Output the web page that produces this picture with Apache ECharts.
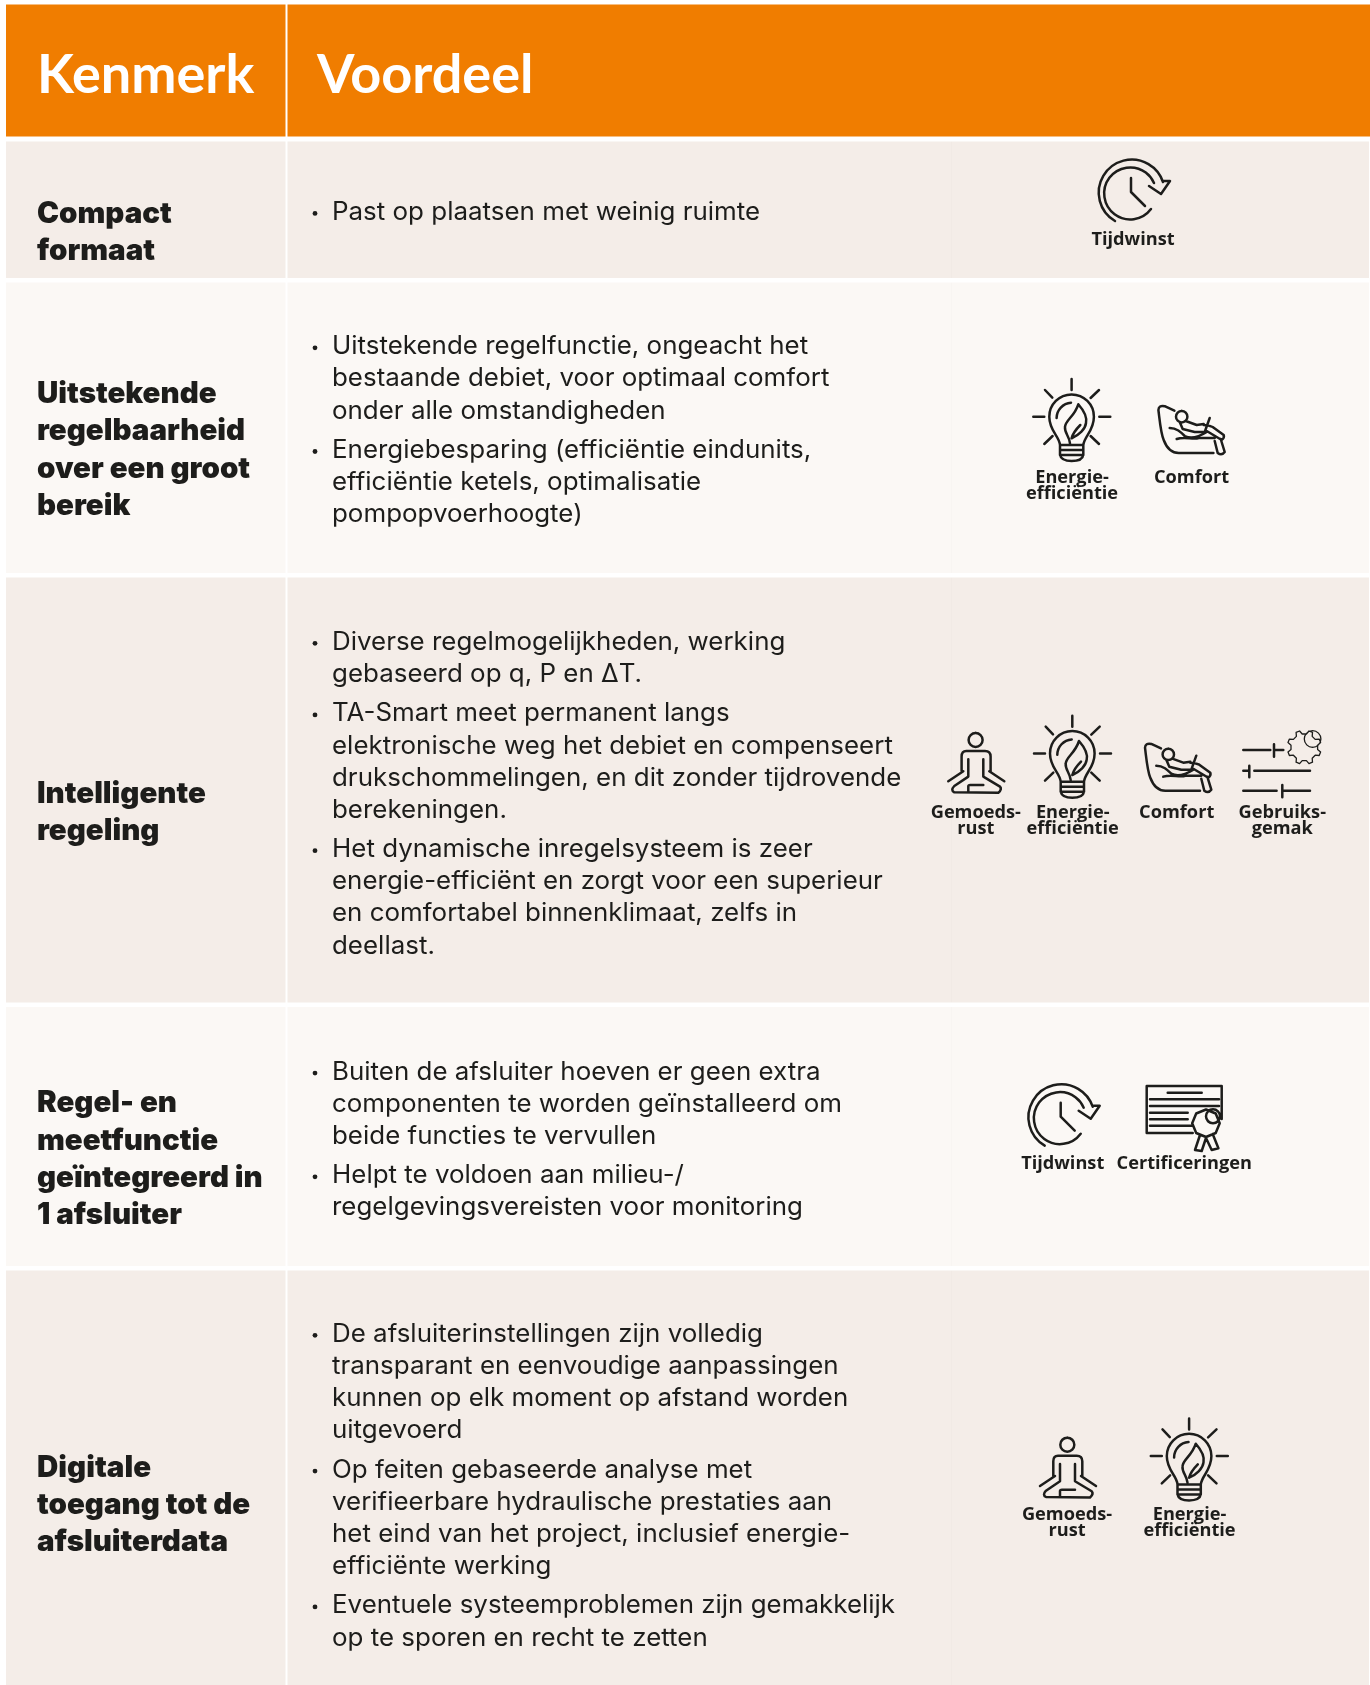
<!DOCTYPE html>
<html>
<head>
<meta charset="utf-8">
<title>Kenmerk en voordeel</title>
<script src="https://cdn.jsdelivr.net/npm/echarts@6/dist/echarts.min.js"></script>
<style>
  html, body { margin: 0; padding: 0; background: #fff; }
  #chart { width: 1370px; height: 1685px; }
</style>
</head>
<body>
<div id="chart"></div>
<script>
// table content
var headers = ['Kenmerk', 'Voordeel'];

var kenmerken = [
  ['Compact', 'formaat'],
  ['Uitstekende', 'regelbaarheid', 'over een groot', 'bereik'],
  ['Intelligente', 'regeling'],
  ['Regel- en', 'meetfunctie', 'geïntegreerd in', '1 afsluiter'],
  ['Digitale', 'toegang tot de', 'afsluiterdata']
];

var voordelen = [
  [['Past op plaatsen met weinig ruimte']],
  [['Uitstekende regelfunctie, ongeacht het', 'bestaande debiet, voor optimaal comfort', 'onder alle omstandigheden'],
   ['Energiebesparing (efficiëntie eindunits,', 'efficiëntie ketels, optimalisatie', 'pompopvoerhoogte)']],
  [['Diverse regelmogelijkheden, werking', 'gebaseerd op q, P en ΔT.'],
   ['TA-Smart meet permanent langs', 'elektronische weg het debiet en compenseert', 'drukschommelingen, en dit zonder tijdrovende', 'berekeningen.'],
   ['Het dynamische inregelsysteem is zeer', 'energie-efficiënt en zorgt voor een superieur', 'en comfortabel binnenklimaat, zelfs in', 'deellast.']],
  [['Buiten de afsluiter hoeven er geen extra', 'componenten te worden geïnstalleerd om', 'beide functies te vervullen'],
   ['Helpt te voldoen aan milieu-/', 'regelgevingsvereisten voor monitoring']],
  [['De afsluiterinstellingen zijn volledig', 'transparant en eenvoudige aanpassingen', 'kunnen op elk moment op afstand worden', 'uitgevoerd'],
   ['Op feiten gebaseerde analyse met', 'verifieerbare hydraulische prestaties aan', 'het eind van het project, inclusief energie-', 'efficiënte werking'],
   ['Eventuele systeemproblemen zijn gemakkelijk', 'op te sporen en recht te zetten']]
];

var iconsPerRow = [
  ['clock'],
  ['bulb', 'comfort'],
  ['person', 'bulb', 'comfort', 'sliders'],
  ['clock', 'cert'],
  ['person', 'bulb']
];

var iconLabels = {
  clock: ['Tijdwinst'],
  bulb: ['Energie-', 'efficiëntie'],
  comfort: ['Comfort'],
  person: ['Gemoeds-', 'rust'],
  sliders: ['Gebruiks-', 'gemak'],
  cert: ['Certificeringen']
};

// layout, in page pixels
var rowEdges = [[4.4, 136.5], [141.5, 278], [282.5, 573], [577.5, 1002.5], [1007, 1266], [1270.5, 1685]];
var colEdges = [6, 285.5, 287.5, 1369];
var titleFirstY = [213.8, 394.3, 794, 1103.4, 1467.7];
var bodyFirstY = [212.4, 346.8, 642.3, 1072.1, 1334.3];
var iconOrigins = [
  [[1097, 158]],
  [[1033.3, 379], [1156.7, 405]],
  [[948.3, 732.3], [1034, 715.7], [1143.3, 742.7], [1243.3, 730]],
  [[1026.7, 1082.7], [1146.7, 1086]],
  [[1040, 1437], [1150.8, 1418.4]]
];
var labelCenters = [
  [1133],
  [1072, 1191.6],
  [975.8, 1072.7, 1176.7, 1282.3],
  [1062.7, 1184.3],
  [1067, 1189.5]
];
var labelFirstY = [239.5, 478, 812.7, 1163.7, 1515];

var INK = '#1d1d1b';

function gearPath(cx, cy, teeth, rOut, rIn) {
  var d = '';
  var step = Math.PI * 2 / teeth;
  for (var i = 0; i < teeth; i++) {
    var a = i * step + step / 2;
    [[rIn, -0.3], [rOut, -0.14], [rOut, 0.14], [rIn, 0.3]].forEach(function (p, k) {
      var t = a + p[1] * step;
      d += (i === 0 && k === 0 ? 'M' : 'L') + (cx + p[0] * Math.cos(t)).toFixed(1) + ' ' + (cy + p[0] * Math.sin(t)).toFixed(1) + ' ';
    });
  }
  return d + 'Z ';
}

// icons are drawn in a local 80x85 box, 1 unit = 1 page pixel
var iconPaths = {
  clock: 'M18 63 A33 33 0 1 1 66 24 M54 51 A26 26 0 1 1 57 25 M34 20 L34 34 L48 48 M52 28 L64 36 L73 23 L66 23',
  bulb: 'M38.3 0 L38.3 11 M0 37.7 L11 37.7 M66 37.7 L77 37.7 M11.7 11 L19 18.7 M65.7 11 L57.3 19 M11 65 L19.3 57 M65.7 65 L57.3 57 ' +
    'M26.7 66 C26 57 16 52 16 37.7 A22.3 22.3 0 1 1 60.6 37.7 C60.6 52 51 57 50 66 ' +
    'M26.7 66 L50 66 M26.7 71 L50 71 M26.7 76 L50 76 M26.7 66 L26.7 76 Q28 82 38.3 82 Q49 82 50 76 L50 66 ' +
    'M23.3 39 A15.5 15.5 0 0 1 37.7 23.7 ' +
    'M36.7 64.3 C36 57 31 54 31.7 48 C32 41 41 38 45 25.3 C50 31 54 38 52.7 44 C52 50 46 56 38.3 59.3 M38.3 59.3 C40 53 43 50 47 46',
  comfort: 'M17.7 5.7 L8 1.2 Q2 0 1.7 5 C3 15 4 28 7 35 C10 43 14 48 22 48 L56.7 48 ' +
    'M25 6 A5.7 5.7 0 1 0 25.01 6 ' +
    'M29 16 L40 20 L47 19 M53 13 L48 27 L38 27 M23 17 L26 24 L38 27 ' +
    'M47 20 C52 20 54 21 56 22 L67 30 Q68 33 65 35 L50 26 ' +
    'M58 36 L61 48 Q65 51 68 47 L64 34 ' +
    'M13 23 C20 23 24 27 28 31 C34 34 42 32 50 27 M20 34 C28 31 36 35 42 33 L58 33',
  person: 'M27.3 0.7 A7 7 0 1 0 27.31 0.7 ' +
    'M13.3 39 L13.3 24.3 Q13.3 18.7 18 18.7 L36.7 18.7 Q42.3 18.7 42.3 24.3 L42.3 39 ' +
    'M0 49 L15 39 M56 49 L41 39 ' +
    'M20 27 L20 44.3 L6 53.7 Q2 58 6 60 L50 60.5 Q54 57 51.7 54.3 L35 44.3 L35 27 ' +
    'M20 60 L20 54 Q20 52.7 22 52.7 L35 52.7',
  sliders: 'M0 20 L27 20 M30.7 14.3 L30.7 26.7 M30.7 20 L40 20 ' +
    'M6 35.7 L6 47.3 M0 40.7 L6 40.7 M11 40.7 L66.7 40.7 ' +
    'M0 60.7 L33.3 60.7 M39 55 L39 67.3 M39 60.7 L66.7 60.7',
  cert: 'M75 33 L75 0 L0 0 L0 47 L46 47 ' +
    'M21 6.7 L55 6.7 M3.3 13.3 L72.3 13.3 M3.3 20 L72.3 20 M3.3 26.7 L41 26.7 M3.3 33.3 L41 33.3 M3.3 39.7 L45 39.7 ' +
    'M59.3 23.5 L69 27.5 L73 37.3 L69 47 L59.3 51 L49.5 47 L45.5 37.3 L49.5 27.5 Z ' +
    'M66.3 37.3 A7 7 0 1 0 66.29 37.3 ' +
    'M53.3 49 L48.3 64 L55 65 L59.3 52 L65 64 L71.7 62.3 L66 48'
};

// the gear is drawn with a thinner line than the rest
var iconThinPaths = {
  sliders: gearPath(61, 17.3, 8, 17, 13.5) + 'M69.3 17.3 A8.3 8.3 0 1 0 69.29 17.3'
};

var FONT_BODY = '400 25px Inter, sans-serif';
var BODY_STRETCH = 1.037;
var FONT_TITLE = '900 29.5px Inter, sans-serif';
var FONT_HEAD = '700 54px Lato, sans-serif';
var FONT_LABEL = '700 18.2px "Open Sans", sans-serif';

function txt(x, y, s, font, fill, align, stretch) {
  return {
    type: 'text', x: x, y: y, scaleX: stretch || 1, silent: true,
    style: { text: s, font: font, fill: fill, align: align || 'left', verticalAlign: 'middle' }
  };
}

function band(api, x0, x1, y0, y1, fill) {
  var a = api.coord([x0, y0]);
  var b = api.coord([x1, y1]);
  return { type: 'rect', shape: { x: a[0], y: a[1], width: b[0] - a[0], height: b[1] - a[1] }, style: { fill: fill } };
}

function iconPath(d, width) {
  return {
    type: 'path',
    shape: { pathData: 'M0 0 ' + d + ' M80 85', layout: 'cover', x: 0, y: 0, width: 80, height: 85 },
    style: { fill: 'none', stroke: INK, lineWidth: width, lineCap: 'round', lineJoin: 'round' }
  };
}

function renderRow(params, api) {
  var r = params.dataIndex;
  var top = api.value(0);
  var bottom = api.value(1);
  var kids = [];

  if (r === 0) {
    kids.push(band(api, colEdges[0], colEdges[1], top, bottom, '#f07d00'));
    kids.push(band(api, colEdges[2], 1370, top, bottom, '#f07d00'));
    var hy = api.coord([0, 76])[1];
    kids.push(txt(api.coord([37, 0])[0], hy, headers[0], FONT_HEAD, '#fff'));
    kids.push(txt(api.coord([317, 0])[0], hy, headers[1], FONT_HEAD, '#fff'));
    return { type: 'group', children: kids };
  }

  var i = r - 1;
  var fill = i % 2 === 0 ? '#f4ede8' : '#fbf8f5';
  kids.push(band(api, colEdges[0], colEdges[1], top, bottom, fill));
  kids.push(band(api, colEdges[2], colEdges[3], top, bottom, fill));
  kids.push(band(api, 951, 952, top, bottom, 'rgba(0,0,0,0.012)'));

  // first column
  kenmerken[i].forEach(function (line, k) {
    var p = api.coord([37, titleFirstY[i] + k * 37.3]);
    kids.push(txt(p[0], p[1], line, FONT_TITLE, INK));
  });

  // second column, bullets with their wrapped lines
  var y = bodyFirstY[i];
  voordelen[i].forEach(function (lines) {
    var b = api.coord([315, y]);
    kids.push({ type: 'circle', shape: { cx: b[0], cy: b[1] + 1, r: 2.4 }, style: { fill: INK } });
    lines.forEach(function (line, k) {
      var p = api.coord([332, y + k * 32.1]);
      kids.push(txt(p[0], p[1], line, FONT_BODY, INK, 'left', BODY_STRETCH));
    });
    y += (lines.length - 1) * 32.1 + 39.5;
  });

  // icons with labels
  iconsPerRow[i].forEach(function (name, k) {
    var o = api.coord(iconOrigins[i][k]);
    var parts = [iconPath(iconPaths[name], 2.5)];
    if (iconThinPaths[name]) {
      parts.push(iconPath(iconThinPaths[name], 1.3));
    }
    kids.push({ type: 'group', x: o[0], y: o[1], silent: true, children: parts });
    iconLabels[name].forEach(function (line, m) {
      var p = api.coord([labelCenters[i][k], labelFirstY[i] + m * 16]);
      kids.push(txt(p[0], p[1], line, FONT_LABEL, INK, 'center'));
    });
  });

  return { type: 'group', children: kids };
}

var chart = echarts.init(document.getElementById('chart'));
chart.setOption({
  animation: false,
  backgroundColor: '#ffffff',
  tooltip: { show: false },
  grid: { left: 0, right: 0, top: 0, bottom: 0 },
  xAxis: { type: 'value', min: 0, max: 1370, show: false },
  yAxis: { type: 'value', min: 0, max: 1685, inverse: true, show: false },
  series: [{
    type: 'custom',
    coordinateSystem: 'cartesian2d',
    clip: false,
    silent: true,
    encode: { y: [0, 1] },
    renderItem: renderRow,
    data: rowEdges
  }]
});
</script>
</body>
</html>
